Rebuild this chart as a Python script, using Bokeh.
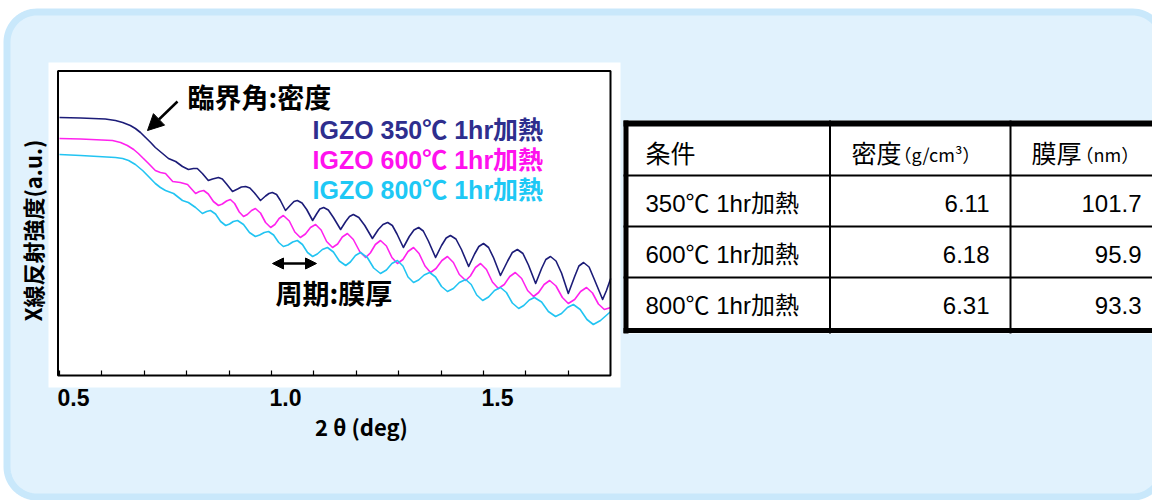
import numpy as np
from bokeh.plotting import figure
from bokeh.models import Range1d, LinearAxis, FixedTicker, ColumnDataSource, Arrow, NormalHead
from bokeh.core.properties import value
from bokeh.embed import file_html
from bokeh.resources import INLINE

# ---------------- data ----------------
# 2theta (deg) and log reflectivity (arbitrary units)
two_theta_350 = [0.500, 0.550, 0.608, 0.632, 0.649, 0.667, 0.679, 0.691, 0.703, 0.715,
                 0.726, 0.743, 0.757, 0.774, 0.790, 0.804, 0.816, 0.825, 0.837, 0.851,
                 0.861, 0.875, 0.884, 0.894, 0.908, 0.920, 0.929, 0.939, 0.949, 0.960,
                 0.974, 0.986, 0.994, 1.002, 1.012, 1.021, 1.033, 1.045, 1.053, 1.061,
                 1.072, 1.083, 1.097, 1.107, 1.114, 1.123, 1.134, 1.146, 1.163, 1.175,
                 1.184, 1.193, 1.206, 1.220, 1.238, 1.252, 1.263, 1.274, 1.285, 1.296,
                 1.311, 1.325, 1.336, 1.347, 1.358, 1.370, 1.387, 1.401, 1.412, 1.422,
                 1.435, 1.448, 1.465, 1.479, 1.489, 1.500, 1.512, 1.524, 1.540, 1.557,
                 1.568, 1.580, 1.593, 1.606, 1.623, 1.637, 1.647, 1.658, 1.671, 1.684,
                 1.700, 1.715, 1.725, 1.736, 1.749, 1.761, 1.781, 1.790, 1.800]
log_i_350 = [5.66, 5.65, 5.63, 5.60, 5.56, 5.50, 5.44, 5.36, 5.26, 5.16,
             5.06, 4.94, 4.84, 4.78, 4.68, 4.62, 4.64, 4.64, 4.54, 4.40,
             4.43, 4.46, 4.43, 4.33, 4.18, 4.23, 4.27, 4.28, 4.25, 4.15,
             4.00, 4.09, 4.14, 4.16, 4.12, 4.00, 3.80, 3.91, 3.98, 4.00,
             3.95, 3.82, 3.60, 3.74, 3.83, 3.86, 3.81, 3.66, 3.42, 3.58,
             3.68, 3.72, 3.66, 3.50, 3.24, 3.42, 3.52, 3.56, 3.50, 3.33,
             3.06, 3.28, 3.41, 3.46, 3.39, 3.19, 2.86, 3.10, 3.25, 3.30,
             3.23, 3.02, 2.68, 2.93, 3.08, 3.14, 3.06, 2.85, 2.50, 2.79,
             2.96, 3.02, 2.94, 2.71, 2.34, 2.64, 2.82, 2.88, 2.79, 2.55,
             2.14, 2.48, 2.69, 2.76, 2.67, 2.43, 2.02, 2.20, 2.44]

two_theta_600 = [0.500, 0.550, 0.625, 0.644, 0.660, 0.675, 0.686, 0.698, 0.710, 0.726,
                 0.738, 0.750, 0.767, 0.785, 0.802, 0.821, 0.830, 0.840, 0.851, 0.863,
                 0.875, 0.884, 0.894, 0.903, 0.913, 0.924, 0.934, 0.943, 0.953, 0.962,
                 0.974, 0.986, 0.998, 1.008, 1.018, 1.028, 1.042, 1.055, 1.068, 1.080,
                 1.092, 1.104, 1.117, 1.130, 1.144, 1.156, 1.167, 1.179, 1.193, 1.208,
                 1.222, 1.233, 1.245, 1.257, 1.271, 1.284, 1.297, 1.310, 1.322, 1.335,
                 1.348, 1.362, 1.375, 1.388, 1.402, 1.415, 1.429, 1.443, 1.458, 1.469,
                 1.481, 1.493, 1.507, 1.521, 1.535, 1.549, 1.562, 1.575, 1.590, 1.604,
                 1.618, 1.630, 1.643, 1.656, 1.671, 1.686, 1.700, 1.715, 1.729, 1.743,
                 1.757, 1.771, 1.785, 1.800]
log_i_600 = [5.24, 5.23, 5.20, 5.16, 5.10, 5.02, 4.94, 4.84, 4.74, 4.60,
             4.56, 4.54, 4.38, 4.36, 4.32, 4.14, 4.18, 4.20, 4.13, 3.98,
             3.90, 3.93, 3.99, 4.02, 3.94, 3.77, 3.68, 3.72, 3.80, 3.84,
             3.75, 3.56, 3.46, 3.52, 3.64, 3.70, 3.59, 3.37, 3.26, 3.33,
             3.46, 3.52, 3.41, 3.18, 3.06, 3.13, 3.27, 3.34, 3.22, 2.98,
             2.86, 2.95, 3.12, 3.20, 3.09, 2.86, 2.74, 2.82, 2.98, 3.06,
             2.94, 2.69, 2.56, 2.64, 2.80, 2.88, 2.76, 2.52, 2.40, 2.49,
             2.66, 2.74, 2.62, 2.37, 2.24, 2.32, 2.48, 2.56, 2.44, 2.20,
             2.08, 2.16, 2.32, 2.40, 2.29, 2.06, 1.94, 2.02, 2.18, 2.26,
             2.15, 1.93, 1.82, 1.86]

two_theta_800 = [0.500, 0.550, 0.632, 0.649, 0.663, 0.679, 0.696, 0.710, 0.726, 0.738,
                 0.750, 0.769, 0.790, 0.804, 0.821, 0.837, 0.847, 0.856, 0.868, 0.880,
                 0.892, 0.901, 0.910, 0.920, 0.934, 0.948, 0.962, 0.972, 0.983, 0.993,
                 1.005, 1.017, 1.028, 1.039, 1.050, 1.061, 1.073, 1.085, 1.097, 1.108,
                 1.120, 1.132, 1.146, 1.160, 1.175, 1.186, 1.198, 1.210, 1.226, 1.241,
                 1.257, 1.271, 1.284, 1.297, 1.310, 1.322, 1.335, 1.347, 1.360, 1.373,
                 1.387, 1.401, 1.415, 1.429, 1.443, 1.458, 1.471, 1.484, 1.498, 1.512,
                 1.526, 1.540, 1.554, 1.568, 1.583, 1.595, 1.608, 1.620, 1.637, 1.653,
                 1.670, 1.684, 1.698, 1.712, 1.728, 1.744, 1.759, 1.776, 1.800]
log_i_800 = [4.92, 4.90, 4.86, 4.84, 4.80, 4.72, 4.60, 4.48, 4.34, 4.26,
             4.20, 4.14, 4.00, 3.96, 3.86, 3.74, 3.78, 3.80, 3.73, 3.58,
             3.50, 3.53, 3.58, 3.60, 3.52, 3.36, 3.28, 3.31, 3.36, 3.38,
             3.31, 3.16, 3.08, 3.11, 3.17, 3.20, 3.12, 2.96, 2.88, 2.93,
             3.02, 3.06, 2.97, 2.79, 2.70, 2.77, 2.90, 2.96, 2.86, 2.65,
             2.54, 2.61, 2.74, 2.80, 2.69, 2.47, 2.36, 2.41, 2.51, 2.56,
             2.47, 2.28, 2.18, 2.24, 2.36, 2.42, 2.32, 2.11, 2.00, 2.07,
             2.20, 2.26, 2.16, 1.95, 1.84, 1.90, 2.01, 2.06, 1.97, 1.78,
             1.68, 1.74, 1.86, 1.92, 1.82, 1.62, 1.52, 1.60, 1.78]

series_labels = ["IGZO 350℃ 1hr加熱", "IGZO 600℃ 1hr加熱", "IGZO 800℃ 1hr加熱"]
series_line_colors = ["#1c1c78", "#ff22ee", "#22c4f2"]
series_text_colors = ["#2e2e8e", "#ff11ee", "#1ec8f5"]

xtick_values = [0.5, 1.0, 1.5]
xtick_labels = ["0.5", "1.0", "1.5"]
xtick_marks = [0.5, 0.6, 0.7, 0.8, 0.9, 1.0, 1.1, 1.2, 1.3, 1.4, 1.5, 1.6, 1.7]

table_headers = ["条件", "密度", "膜厚"]
table_units = ["（g/cm³）", "（nm）"]
table_conditions = ["350℃ 1hr加熱", "600℃ 1hr加熱", "800℃ 1hr加熱"]
table_density = [6.11, 6.18, 6.31]
table_thickness = [101.7, 95.9, 93.3]

x_title = "2 θ (deg)"
y_title = "X線反射強度(a.u.)"
note_critical = "臨界角:密度"
note_period = "周期:膜厚"

# ---------------- layout ----------------
W, H = 1152, 500
PX0, PX_PER_DEG = 59.0, 424.0       # page x of 0.5 deg, pixels per degree
PY_PER_UNIT, PY_OFF = 50.0, 8.0     # lg = PY_OFF - y/PY_PER_UNIT
CJK = "Noto Sans CJK JP"
LAT = "Liberation Sans"
MIX = "Liberation Sans, Noto Sans CJK JP"

p = figure(width=W, height=H, x_range=Range1d(0, W), y_range=Range1d(H, 0),
           output_backend="svg", toolbar_location=None, title=None,
           x_axis_type=None, y_axis_type=None, min_border=0)
p.outline_line_color = None
p.background_fill_color = "white"
p.border_fill_color = "white"

p.extra_x_ranges = {"deg": Range1d(0.5 + (0 - PX0) / PX_PER_DEG,
                                   0.5 + (W - PX0) / PX_PER_DEG)}
p.extra_y_ranges = {"lg": Range1d(PY_OFF - H / PY_PER_UNIT, PY_OFF)}


def rounded_rect(x0, y0, x1, y1, r, n=18):
    xs, ys = [], []
    for cx, cy, a0 in [(x0 + r, y0 + r, 180), (x1 - r, y0 + r, 270),
                       (x1 - r, y1 - r, 0), (x0 + r, y1 - r, 90)]:
        t = np.radians(np.linspace(a0, a0 + 90, n))
        xs += list(cx + r * np.cos(t))
        ys += list(cy + r * np.sin(t))
    return xs, ys


bx, by = rounded_rect(6.5, 11.5, 1162, 496.5, 30)
p.patch(bx, by, fill_color="#e1f2fd", line_color="#c9e8fb", line_width=7)

# white plot box
p.quad(left=[48], right=[620], top=[62], bottom=[387], fill_color="white", line_color=None)

# curves
for xs, ys, c in [(two_theta_350, log_i_350, series_line_colors[0]),
                  (two_theta_600, log_i_600, series_line_colors[1]),
                  (two_theta_800, log_i_800, series_line_colors[2])]:
    p.line(xs, ys, x_range_name="deg", y_range_name="lg", line_color=c, line_width=1.6,
           line_join="round")

# inner frame
p.quad(left=[57.5], right=[610], top=[70.5], bottom=[375], fill_color=None,
       line_color="black", line_width=2)

# x axis: tick marks
tick_axis = LinearAxis(x_range_name="deg", fixed_location=375,
                       ticker=FixedTicker(ticks=xtick_marks, minor_ticks=[]),
                       major_tick_in=5, major_tick_out=0, minor_tick_in=0, minor_tick_out=0,
                       axis_line_color=None, major_tick_line_color="black",
                       major_tick_line_width=1.2, major_label_text_color=None)
p.add_layout(tick_axis, "below")

# x axis: labels (left aligned to their tick in the original)
label_shift = 14.0 / PX_PER_DEG
label_pos = [round(v + label_shift, 4) for v in xtick_values]
label_axis = LinearAxis(x_range_name="deg", fixed_location=375,
                        ticker=FixedTicker(ticks=label_pos, minor_ticks=[]),
                        major_label_overrides={pos: lab for pos, lab in zip(label_pos, xtick_labels)},
                        major_tick_in=0, major_tick_out=0, minor_tick_in=0, minor_tick_out=0,
                        axis_line_color=None, major_tick_line_color=None,
                        major_label_standoff=13,
                        major_label_text_font=LAT, major_label_text_font_style="bold",
                        major_label_text_font_size="23px", major_label_text_color="black")
p.add_layout(label_axis, "below")

# axis titles
p.text(x=[361], y=[425], text=[x_title], text_align="center", text_baseline="middle",
       text_font=value(CJK), text_font_style="bold", text_font_size="22px", text_color="black")
p.text(x=[31], y=[230], text=[y_title], angle=np.pi / 2, text_align="center",
       text_baseline="middle", text_font=value(CJK), text_font_style="bold",
       text_font_size="22px", text_color="black")

# legend texts
leg = ColumnDataSource(dict(x=[312] * 3, y=[129, 159, 189], t=series_labels, c=series_text_colors))
p.text(x="x", y="y", text="t", text_color="c", source=leg, text_align="left",
       text_baseline="middle", text_font=value(MIX), text_font_style="bold",
       text_font_size="25px")

# annotations
p.text(x=[187], y=[96], text=[note_critical], text_align="left", text_baseline="middle",
       text_font=value(CJK), text_font_style="bold", text_font_size="27px", text_color="black")
p.text(x=[275], y=[292], text=[note_period], text_align="left", text_baseline="middle",
       text_font=value(CJK), text_font_style="bold", text_font_size="27px", text_color="black")
p.add_layout(Arrow(end=NormalHead(size=16, fill_color="black", line_color="black"),
                   x_start=177, y_start=101, x_end=147, y_end=130,
                   line_color="black", line_width=2.5))
p.add_layout(Arrow(start=NormalHead(size=11, fill_color="black", line_color="black"),
                   end=NormalHead(size=11, fill_color="black", line_color="black"),
                   x_start=272, y_start=263, x_end=316, y_end=263,
                   line_color="black", line_width=2.5))

# ---------------- table ----------------
TL, TR, TT, TB = 623, 1160, 120, 333
p.quad(left=[TL], right=[TR], top=[TT], bottom=[TB], fill_color="white", line_color=None)
hy = [123, 175, 226, 277, 330]
hw = [6, 2, 2, 2, 5]
p.segment(x0=[TL] * 5, x1=[TR] * 5, y0=hy, y1=hy, line_color="black", line_width=hw)
vx = [625.5, 829.5, 1010]
vw = [5, 2, 2]
p.segment(x0=vx, x1=vx, y0=[TT] * 3, y1=[TB] * 3, line_color="black", line_width=vw)

head = ColumnDataSource(dict(x=[645, 851, 1031], y=[151, 151, 151], t=table_headers))
p.text(x="x", y="y", text="t", source=head, text_align="left", text_baseline="middle",
       text_font=value(CJK), text_font_size="25px", text_color="black")
units = ColumnDataSource(dict(x=[893, 1075], y=[153, 153], t=table_units))
p.text(x="x", y="y", text="t", source=units, text_align="left", text_baseline="middle",
       text_font=value(CJK), text_font_size="18px", text_color="black")

row_y = [203, 254, 305]
rows = ColumnDataSource(dict(y=row_y, cond=table_conditions,
                             dens=[f"{v:.2f}" for v in table_density],
                             thick=[f"{v:.1f}" for v in table_thickness]))
p.text(x=645, y="y", text="cond", source=rows, text_align="left", text_baseline="middle",
       text_font=value(MIX), text_font_size="24px", text_color="black")
p.text(x=989, y="y", text="dens", source=rows, text_align="right", text_baseline="middle",
       text_font=value(MIX), text_font_size="24px", text_color="black")
p.text(x=1141, y="y", text="thick", source=rows, text_align="right", text_baseline="middle",
       text_font=value(MIX), text_font_size="24px", text_color="black")

open("out.html", "w").write(file_html(p, INLINE))
